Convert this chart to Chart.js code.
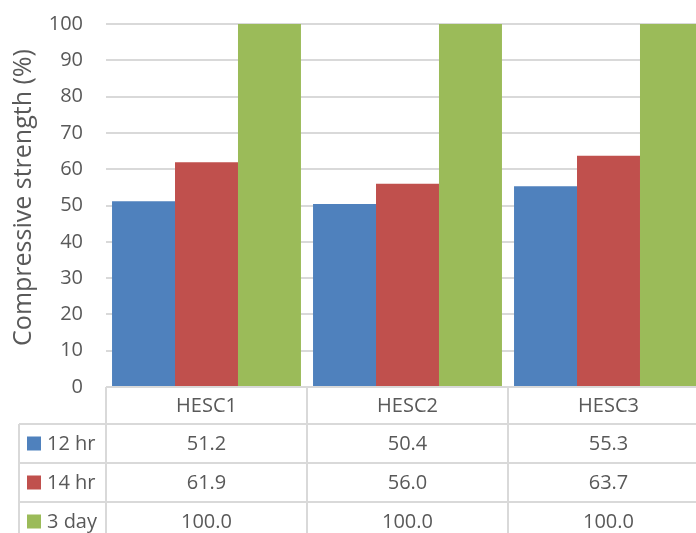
<!DOCTYPE html>
<html>
<head>
<meta charset="utf-8">
<script src="https://cdn.jsdelivr.net/npm/chart.js@4/dist/chart.umd.min.js"></script>
<style>
  html, body { margin: 0; padding: 0; background: #ffffff; overflow: hidden; }
  #wrap { width: 720px; height: 533px; }
</style>
</head>
<body>
<div id="wrap"><canvas id="chart" width="720" height="533"></canvas></div>
<script>
// Compressive strength per mix, as a percentage of the 3-day value
const categories = ['HESC1', 'HESC2', 'HESC3'];
const seriesNames = ['12 hr', '14 hr', '3 day'];
const values12hr = [51.2, 50.4, 55.3];
const values14hr = [61.9, 56.0, 63.7];
const values3day = [100.0, 100.0, 100.0];
const seriesColors = ['#4f81bd', '#c0504d', '#9bbb59'];
const axisTitle = 'Compressive strength (%)';

const FONT = "'Open Sans', 'Noto Sans', sans-serif";
const TEXT = '#595959';
const LINE = '#d9d9d9';

// Vertical axis title, set a little above the middle of the plot
const axisTitlePlugin = {
  id: 'axisTitle',
  afterDraw(chart) {
    const ctx = chart.ctx;
    const area = chart.chartArea;
    ctx.save();
    ctx.translate(24, (area.top + area.bottom) / 2 - 8);
    ctx.rotate(-Math.PI / 2);
    ctx.fillStyle = TEXT;
    ctx.font = '25px ' + FONT;
    ctx.textAlign = 'center';
    ctx.textBaseline = 'middle';
    ctx.fillText(axisTitle, 0, 0);
    ctx.restore();
  }
};

// Data table drawn under the plot, aligned with the category scale
const dataTable = {
  id: 'dataTable',
  afterDraw(chart) {
    const ctx = chart.ctx;
    const x = chart.scales.x;
    const area = chart.chartArea;
    const n = categories.length;
    const catW = (area.right - area.left) / n;
    const top = area.bottom;
    const headerH = 37;
    const rowH = 39;
    const leftEdge = 19;
    const bottom = top + headerH + rowH * seriesNames.length;

    ctx.save();
    ctx.strokeStyle = LINE;
    ctx.lineWidth = 2;

    // vertical lines of the value columns
    for (let i = 0; i <= n; i++) {
      const lx = area.left + catW * i;
      ctx.beginPath();
      ctx.moveTo(lx, top);
      ctx.lineTo(lx, bottom);
      ctx.stroke();
    }
    // left edge of the series-name column
    ctx.beginPath();
    ctx.moveTo(leftEdge, top + headerH);
    ctx.lineTo(leftEdge, bottom);
    ctx.stroke();
    // horizontal row lines
    for (let r = 0; r <= seriesNames.length; r++) {
      const ly = top + headerH + rowH * r;
      ctx.beginPath();
      ctx.moveTo(leftEdge, ly);
      ctx.lineTo(area.right, ly);
      ctx.stroke();
    }

    ctx.fillStyle = TEXT;
    ctx.font = '20px ' + FONT;
    ctx.textBaseline = 'middle';
    ctx.textAlign = 'center';

    // header: category names
    categories.forEach((c, i) => {
      ctx.fillText(c, x.getPixelForValue(i), top + headerH / 2 + 1);
    });

    // rows: legend key, series name, values
    const rows = [values12hr, values14hr, values3day];
    rows.forEach((vals, r) => {
      const cy = top + headerH + rowH * r + rowH / 2;
      ctx.fillStyle = seriesColors[r];
      ctx.fillRect(27, cy - 7, 14, 14);
      ctx.fillStyle = TEXT;
      ctx.textAlign = 'left';
      ctx.fillText(seriesNames[r], 47, cy + 1);
      ctx.textAlign = 'center';
      vals.forEach((v, i) => {
        ctx.fillText(v.toFixed(1), x.getPixelForValue(i), cy + 1);
      });
    });
    ctx.restore();
  }
};

new Chart(document.getElementById('chart'), {
  type: 'bar',
  data: {
    labels: categories,
    datasets: [
      { label: seriesNames[0], data: values12hr, backgroundColor: seriesColors[0] },
      { label: seriesNames[1], data: values14hr, backgroundColor: seriesColors[1] },
      { label: seriesNames[2], data: values3day, backgroundColor: seriesColors[2] }
    ]
  },
  options: {
    responsive: false,
    animation: false,
    devicePixelRatio: 1,
    layout: { padding: { top: 24, right: 11, bottom: 146, left: 0 } },
    datasets: { bar: { categoryPercentage: 0.94, barPercentage: 1.0, borderWidth: 0 } },
    plugins: { legend: { display: false }, tooltip: { enabled: false } },
    scales: {
      x: { display: false, offset: true },
      y: {
        min: 0,
        max: 100,
        ticks: { stepSize: 10, padding: 0, color: TEXT, font: { family: FONT, size: 20 } },
        grid: { color: LINE, lineWidth: 2, drawTicks: true, tickLength: 23, tickColor: 'rgba(0,0,0,0)' },
        border: { display: false },
        afterFit(scale) { scale.width = 106; }
      }
    }
  },
  plugins: [axisTitlePlugin, dataTable]
});
</script>
</body>
</html>
